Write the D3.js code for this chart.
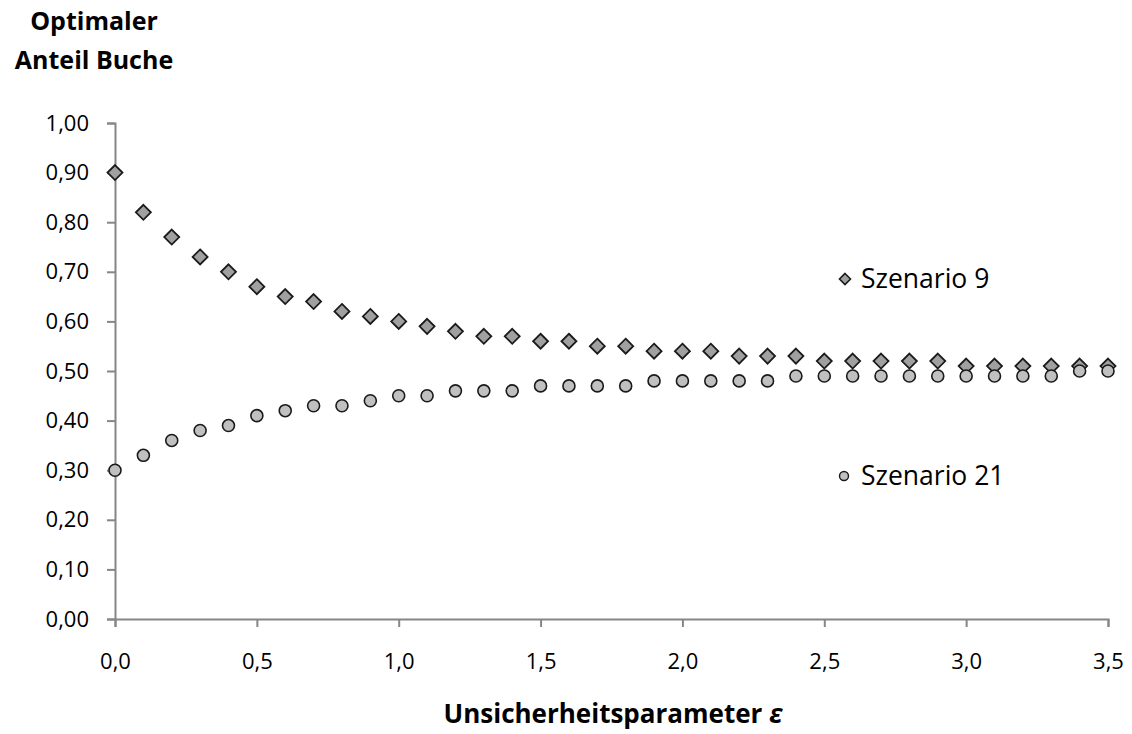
<!DOCTYPE html>
<html><head><meta charset="utf-8">
<script src="https://cdn.jsdelivr.net/npm/d3@7"></script>
<style>
body{margin:0;background:#fff;}
text{font-family:"Open Sans",sans-serif;fill:#000;}
</style></head>
<body><svg id="c" width="1132" height="734"></svg>
<script>
const epsilon = d3.range(0, 36).map(i => +(i * 0.1).toFixed(1));
const szenario9 = [0.90,0.82,0.77,0.73,0.70,0.67,0.65,0.64,0.62,0.61,0.60,0.59,0.58,0.57,0.57,0.56,0.56,0.55,0.55,0.54,0.54,0.54,0.53,0.53,0.53,0.52,0.52,0.52,0.52,0.52,0.51,0.51,0.51,0.51,0.51,0.51];
const szenario21 = [0.30,0.33,0.36,0.38,0.39,0.41,0.42,0.43,0.43,0.44,0.45,0.45,0.46,0.46,0.46,0.47,0.47,0.47,0.47,0.48,0.48,0.48,0.48,0.48,0.49,0.49,0.49,0.49,0.49,0.49,0.49,0.49,0.49,0.49,0.50,0.50];
const xTicks = [0,0.5,1.0,1.5,2.0,2.5,3.0,3.5];
const yTicks = [0,0.1,0.2,0.3,0.4,0.5,0.6,0.7,0.8,0.9,1.0];
const seriesNames = ["Szenario 9","Szenario 21"];

const svg = d3.select("#c");
const x = d3.scaleLinear().domain([0,3.5]).range([115,1108]);
const y = d3.scaleLinear().domain([0,1]).range([619,123]);
const fmt1 = d => d3.format(".1f")(d).replace(".", ",");
const fmt2 = d => d3.format(".2f")(d).replace(".", ",");
const axisCol = "#868686";

const gx = svg.append("g").attr("transform","translate(0,619)")
  .call(d3.axisBottom(x).tickValues(xTicks).tickFormat(fmt1).tickSize(8).tickPadding(26));
const gy = svg.append("g").attr("transform","translate(115,0)")
  .call(d3.axisLeft(y).tickValues(yTicks).tickFormat(fmt2).tickSize(8).tickPadding(18));
[gx,gy].forEach(g=>{
  g.select(".domain").attr("stroke",axisCol).attr("stroke-width",2);
  g.selectAll(".tick line").attr("stroke",axisCol).attr("stroke-width",2);
  g.selectAll(".tick text").attr("font-size",22).attr("font-family","'Open Sans',sans-serif").attr("fill","#000");
});

const diamond = s => `M0,${-s}L${s},0L0,${s}L${-s},0Z`;
svg.append("g").selectAll("path").data(szenario9).join("path")
  .attr("d", diamond(7.5))
  .attr("transform",(d,i)=>`translate(${x(epsilon[i])},${y(d)})`)
  .attr("fill","#a0a0a0").attr("stroke","#1a1a1a").attr("stroke-width",1.8);
svg.append("g").selectAll("circle").data(szenario21).join("circle")
  .attr("cx",(d,i)=>x(epsilon[i])).attr("cy",d=>y(d)).attr("r",6)
  .attr("fill","#c0c0c0").attr("stroke","#1a1a1a").attr("stroke-width",1.6);

// legend
svg.append("path").attr("d",diamond(5.5)).attr("transform","translate(845,279)")
  .attr("fill","#a0a0a0").attr("stroke","#1a1a1a").attr("stroke-width",1.6);
svg.append("text").attr("x",861).attr("y",288).attr("font-size",26.5).text(seriesNames[0]);
svg.append("circle").attr("cx",844).attr("cy",476).attr("r",4.5)
  .attr("fill","#c0c0c0").attr("stroke","#1a1a1a").attr("stroke-width",1.4);
svg.append("text").attr("x",861).attr("y",485).attr("font-size",26.5).text(seriesNames[1]);

// titles
svg.append("text").attr("x",94).attr("y",30).attr("text-anchor","middle")
  .attr("font-size",25).attr("font-weight","bold").text("Optimaler");
svg.append("text").attr("x",94).attr("y",69).attr("text-anchor","middle")
  .attr("font-size",25).attr("font-weight","bold").text("Anteil Buche");
const xt = svg.append("text").attr("x",613).attr("y",723).attr("text-anchor","middle")
  .attr("font-size",26).attr("font-weight","bold");
xt.append("tspan").text("Unsicherheitsparameter ");
xt.append("tspan").attr("font-style","italic").text("ε");
</script></body></html>
